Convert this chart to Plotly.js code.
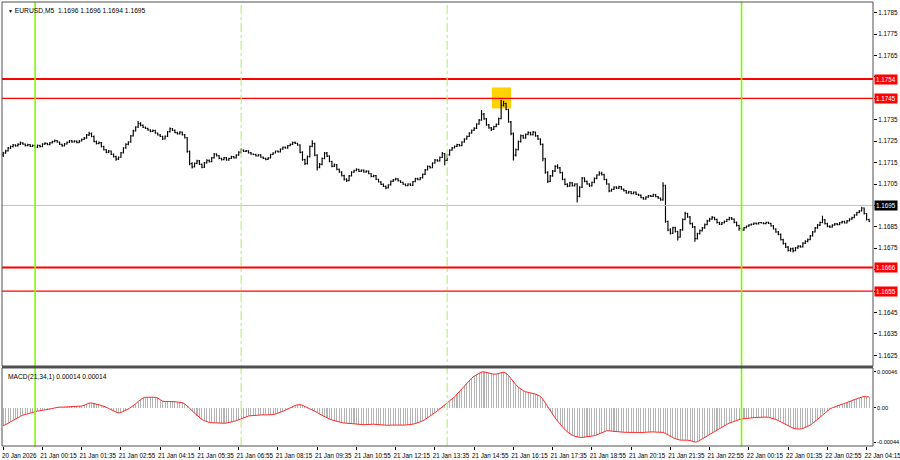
<!DOCTYPE html>
<html><head><meta charset="utf-8">
<script src="https://cdn.plot.ly/plotly-3.0.1.min.js"></script>
<style>html,body{margin:0;padding:0;background:#fff}#chart{width:900px;height:460px}</style>
</head><body><div id="chart"></div>
<script>
// ---- DATA (prices in pips above 1.1600; MACD in units of 0.00001) ----
const symbolTitle = 'EURUSD,M5  1.1696 1.1696 1.1694 1.1695';
const macdTitle = 'MACD(21,34,1) 0.00014 0.00014';
const firstBar = '2026-01-20T22:55:00Z';
const barMinutes = 5;
const priceBase = 1.16;

const openPips = [
118.6,119.5,120.5,121.8,122.5,123.2,122.8,123.5,124.2,123.6,122.9,123.4,122.6,123.0,
122.2,123.0,122.5,123.6,124.0,123.4,124.2,124.8,125.3,124.6,123.5,122.8,123.7,124.5,125.2,124.6,125.0,124.3,125.1,125.8,126.4,127.8,
128.5,127.2,124.8,123.9,124.3,122.5,121.0,119.8,120.4,118.9,117.8,116.6,117.5,119.6,121.8,
123.5,124.6,127.5,129.8,131.6,133.2,
132.4,131.5,131.0,130.2,129.6,130.0,128.8,127.9,127.2,126.0,127.3,129.4,130.8,130.1,129.0,128.4,129.2,128.0,
126.6,120.2,114.5,113.0,114.6,115.8,114.2,112.8,114.9,116.0,115.4,117.2,119.0,118.2,
117.0,116.4,117.3,116.2,116.9,117.8,117.2,118.5,119.9,120.8,
120.2,120.5,119.6,119.0,118.8,118.1,118.6,117.5,117.0,116.5,117.2,118.8,119.5,120.4,120.0,121.3,122.2,121.8,122.9,123.5,124.4,124.0,
123.2,119.8,116.4,114.5,117.8,122.6,124.0,118.5,112.8,114.2,116.9,
119.4,118.0,115.5,113.2,114.0,111.8,110.6,108.9,107.2,106.6,108.8,
110.5,111.2,111.8,110.9,111.5,110.6,111.0,109.8,108.5,108.9,107.2,106.0,104.8,103.9,
103.2,104.6,106.2,106.9,107.4,106.5,105.8,104.9,104.2,105.0,104.4,106.1,107.5,107.0,
107.9,109.5,111.6,113.2,112.6,114.8,116.2,115.8,117.4,119.2,116.0,
118.6,120.8,121.9,122.6,123.4,122.9,124.6,126.0,127.2,128.8,130.1,131.0,133.0,134.8,
137.6,135.4,132.6,131.2,130.5,131.8,132.9,135.5,
141.8,142.6,139.8,134.0,128.5,118.5,121.0,124.8,127.6,126.5,128.2,129.0,128.0,129.2,127.5,126.0,123.5,
116.8,110.5,106.2,108.8,111.0,113.2,112.5,110.3,107.2,104.8,104.0,105.5,104.2,105.0,
99.2,103.5,107.8,106.2,105.0,104.1,105.8,107.6,109.2,110.0,109.4,107.1,105.0,
101.8,102.5,103.6,103.0,103.8,102.6,101.9,100.8,101.4,100.5,101.2,100.2,99.8,98.6,98.0,98.9,99.6,99.2,100.0,99.1,98.4,
97.6,104.2,87.5,83.5,82.0,84.6,82.8,80.2,83.6,88.5,91.2,89.6,86.5,85.0,
79.5,81.8,83.2,84.5,86.0,87.8,88.6,89.4,88.5,87.0,86.2,86.9,87.5,88.4,89.2,88.6,87.1,85.6,
84.2,83.5,84.6,85.3,85.9,86.2,86.7,86.4,87.0,86.8,86.5,87.1,86.6,85.4,84.0,82.6,
81.5,79.0,77.2,75.5,74.0,74.8,73.9,75.2,76.0,75.6,77.4,78.2,79.0,80.8,82.6,84.5,85.8,87.0,
88.3,86.5,85.2,84.9,85.8,86.4,86.0,86.9,87.4,86.8,87.8,88.6,89.3,90.5,91.6,92.4,93.8,91.2,88.4
];
const highPips = [
120.0,121.0,122.3,123.0,123.7,123.6,124.0,124.8,124.5,123.9,123.8,123.7,123.5,123.4,
123.5,123.3,124.0,124.5,124.3,124.6,125.2,125.8,125.6,124.9,123.8,124.1,124.9,125.6,125.5,125.4,125.3,125.5,126.2,126.9,128.3,129.4,
129.0,127.6,125.3,124.8,124.6,122.9,121.4,120.9,120.7,119.2,118.2,117.9,119.9,122.2,124.0,
125.0,127.9,130.3,132.0,134.4,133.8,
132.8,131.9,131.3,130.6,130.4,130.3,129.1,128.3,127.5,127.7,129.8,131.4,131.2,130.4,129.4,129.6,129.5,128.3,
127.0,120.6,115.2,115.0,116.3,116.2,114.6,115.3,116.5,116.4,117.6,119.5,119.4,118.5,
117.3,117.6,117.6,117.2,118.2,118.1,118.9,120.3,121.6,121.1,
120.9,120.8,119.9,119.3,119.1,118.9,118.9,117.8,117.3,117.5,119.1,119.8,120.7,120.7,121.6,122.5,122.5,123.2,123.9,124.8,124.9,124.3,
123.6,120.3,116.8,118.3,123.0,125.4,124.3,118.9,114.8,117.4,119.9,
120.0,118.4,115.9,114.6,114.3,112.2,111.0,109.3,107.7,109.2,111.0,
111.6,112.3,112.1,111.8,111.8,111.4,111.3,110.1,109.3,109.2,107.5,106.3,105.2,104.3,
104.9,106.6,107.3,107.9,107.7,106.8,106.1,105.2,105.4,105.3,106.4,107.9,107.9,108.3,
109.9,112.0,113.6,113.5,115.2,116.7,116.5,117.8,119.9,119.5,119.0,
121.2,122.3,123.0,123.8,123.7,125.0,126.4,127.6,129.2,130.5,131.5,133.4,135.3,139.6,
138.2,135.8,133.0,131.6,132.2,133.3,136.0,144.3,
143.9,143.0,140.2,134.4,129.0,121.6,125.3,128.1,128.0,128.6,129.6,129.4,129.7,129.5,127.9,126.4,123.9,
117.2,111.0,109.2,111.5,113.8,114.2,112.9,110.7,107.6,105.3,106.0,105.9,105.4,105.4,
104.0,108.3,108.2,106.6,105.4,106.2,108.0,109.6,110.9,110.7,109.8,107.5,105.4,
102.9,104.0,104.0,104.2,104.1,102.9,102.2,101.8,101.7,101.5,101.5,100.5,100.1,98.9,99.3,99.9,99.9,100.4,100.3,99.4,98.7,
105.8,104.6,88.0,84.3,85.0,85.0,83.2,84.0,88.9,92.0,91.6,90.0,87.0,85.4,
82.2,83.7,84.9,86.5,88.3,89.2,90.1,89.7,88.8,87.4,87.3,87.9,88.8,89.7,89.6,88.9,87.5,86.0,
84.6,84.9,85.6,86.2,86.5,87.0,87.0,87.3,87.3,87.1,87.4,87.4,86.9,85.8,84.3,83.0,
81.9,79.4,77.6,76.0,75.2,75.3,75.6,76.4,76.4,77.8,78.7,79.5,81.2,83.0,84.9,86.3,87.5,90.2,
88.7,86.9,85.7,86.2,86.8,86.8,87.3,87.8,87.8,88.2,89.0,89.7,90.9,92.0,92.8,94.4,94.0,91.5,88.8
];
const lowPips = [
117.6,119.1,120.2,121.4,122.1,122.4,122.5,123.2,123.3,122.5,122.6,122.3,122.4,121.8,
121.8,122.1,122.2,123.3,123.1,123.1,123.9,124.5,124.3,123.2,122.4,122.5,123.4,124.2,124.3,124.4,124.0,124.1,124.9,125.5,126.1,127.4,
126.8,124.5,123.5,123.6,122.1,120.6,119.4,119.5,118.6,117.4,115.8,116.2,117.2,119.3,121.5,
123.1,124.3,127.2,129.5,131.2,132.0,
131.1,130.7,129.9,129.2,129.3,128.5,127.6,126.9,125.6,125.8,127.0,129.1,129.8,128.7,128.1,128.1,127.7,126.2,
119.6,113.8,112.2,112.7,114.2,113.9,112.3,112.5,114.6,115.0,115.1,116.9,117.8,116.6,
116.0,116.1,115.8,115.9,116.7,116.9,116.9,118.2,119.2,119.9,
119.9,119.3,118.7,118.5,117.8,117.8,117.2,116.7,116.1,116.2,116.9,118.5,119.2,119.7,119.7,121.0,121.5,121.5,122.6,123.2,123.7,122.9,
119.4,115.9,113.9,114.1,117.4,122.2,118.0,111.3,112.3,113.8,116.5,
117.6,115.1,112.8,112.9,111.4,110.2,108.5,106.6,105.9,106.3,108.5,
110.2,110.9,110.6,110.6,110.3,110.3,109.5,108.2,108.2,106.9,105.7,104.5,103.6,102.6,
102.9,104.3,105.9,106.6,106.2,105.5,104.6,103.9,103.9,104.1,104.1,105.8,106.7,106.7,
107.6,109.2,111.3,112.2,112.3,114.5,115.4,115.5,117.1,113.7,115.7,
118.2,120.5,121.6,122.3,122.5,122.6,124.3,125.7,126.9,128.5,129.8,130.7,132.7,134.5,
135.0,132.2,130.8,129.7,130.2,131.5,132.6,135.2,
141.2,139.4,133.6,127.8,116.0,117.8,120.6,124.4,126.1,126.1,127.8,127.6,127.7,127.1,125.6,123.1,115.6,
109.8,105.5,105.8,108.4,110.6,112.1,109.9,106.8,104.4,103.5,103.7,103.8,103.8,96.4,
98.8,103.1,105.8,104.6,103.6,103.8,105.4,107.2,108.8,109.0,106.7,104.6,101.2,
101.4,102.2,102.7,102.7,102.3,101.5,100.4,100.5,100.2,100.2,99.9,99.4,98.3,97.6,97.7,98.6,98.9,98.9,98.8,98.1,97.2,
97.2,86.9,82.9,81.4,81.7,82.3,78.6,79.9,83.2,88.1,89.2,86.1,84.5,78.0,
79.1,81.4,82.8,84.1,85.7,87.4,88.3,88.1,86.6,85.8,85.9,86.5,87.2,88.0,88.2,86.7,85.2,83.2,
82.9,83.2,84.3,85.0,85.6,85.9,86.1,86.1,86.5,86.2,86.2,86.3,85.1,83.7,82.2,81.1,
78.6,76.8,75.1,73.5,73.3,73.0,73.6,74.8,75.2,75.3,77.0,77.8,78.7,80.5,82.3,84.1,85.4,86.7,
86.1,84.8,84.5,84.6,85.5,85.7,85.7,86.6,86.5,86.5,87.5,88.3,89.0,90.2,91.3,92.1,90.8,88.0,87.2
];
const closePips = [
119.5,120.5,121.8,122.5,123.2,122.8,123.5,124.2,123.6,122.9,123.4,122.6,123.0,122.2,
123.0,122.5,123.6,124.0,123.4,124.2,124.8,125.3,124.6,123.5,122.8,123.7,124.5,125.2,124.6,125.0,124.3,125.1,125.8,126.4,127.8,128.5,
127.2,124.8,123.9,124.3,122.5,121.0,119.8,120.4,118.9,117.8,116.6,117.5,119.6,121.8,123.5,
124.6,127.5,129.8,131.6,133.2,132.4,
131.5,131.0,130.2,129.6,130.0,128.8,127.9,127.2,126.0,127.3,129.4,130.8,130.1,129.0,128.4,129.2,128.0,126.6,
120.2,114.5,113.0,114.6,115.8,114.2,112.8,114.9,116.0,115.4,117.2,119.0,118.2,117.0,
116.4,117.3,116.2,116.9,117.8,117.2,118.5,119.9,120.8,120.2,
120.5,119.6,119.0,118.8,118.1,118.6,117.5,117.0,116.5,117.2,118.8,119.5,120.4,120.0,121.3,122.2,121.8,122.9,123.5,124.4,124.0,123.2,
119.8,116.4,114.5,117.8,122.6,124.0,118.5,112.8,114.2,116.9,119.4,
118.0,115.5,113.2,114.0,111.8,110.6,108.9,107.2,106.6,108.8,110.5,
111.2,111.8,110.9,111.5,110.6,111.0,109.8,108.5,108.9,107.2,106.0,104.8,103.9,103.2,
104.6,106.2,106.9,107.4,106.5,105.8,104.9,104.2,105.0,104.4,106.1,107.5,107.0,107.9,
109.5,111.6,113.2,112.6,114.8,116.2,115.8,117.4,119.2,116.0,118.6,
120.8,121.9,122.6,123.4,122.9,124.6,126.0,127.2,128.8,130.1,131.0,133.0,134.8,137.6,
135.4,132.6,131.2,130.5,131.8,132.9,135.5,141.8,
142.6,139.8,134.0,128.5,118.5,121.0,124.8,127.6,126.5,128.2,129.0,128.0,129.2,127.5,126.0,123.5,116.8,
110.5,106.2,108.8,111.0,113.2,112.5,110.3,107.2,104.8,104.0,105.5,104.2,105.0,99.2,
103.5,107.8,106.2,105.0,104.1,105.8,107.6,109.2,110.0,109.4,107.1,105.0,101.8,
102.5,103.6,103.0,103.8,102.6,101.9,100.8,101.4,100.5,101.2,100.2,99.8,98.6,98.0,98.9,99.6,99.2,100.0,99.1,98.4,97.6,
104.2,87.5,83.5,82.0,84.6,82.8,80.2,83.6,88.5,91.2,89.6,86.5,85.0,79.5,
81.8,83.2,84.5,86.0,87.8,88.6,89.4,88.5,87.0,86.2,86.9,87.5,88.4,89.2,88.6,87.1,85.6,84.2,
83.5,84.6,85.3,85.9,86.2,86.7,86.4,87.0,86.8,86.5,87.1,86.6,85.4,84.0,82.6,81.5,
79.0,77.2,75.5,74.0,74.8,73.9,75.2,76.0,75.6,77.4,78.2,79.0,80.8,82.6,84.5,85.8,87.0,88.3,
86.5,85.2,84.9,85.8,86.4,86.0,86.9,87.4,86.8,87.8,88.6,89.3,90.5,91.6,92.4,93.8,91.2,88.4,87.6
];
const macdE5 = [
-23,-22,-20,-18,-16,-14,-12.5,-11,-9.5,-8.5,-7.5,-6.5,-5.5,-4.8,-4.2,-3.8,-3.4,-3,-2.5,-1.8,
-1,-0.2,0.5,0.9,0.8,1.0,1.3,1.6,1.7,1.8,1.7,1.8,2.2,3.2,4.6,6.0,6.2,5.6,5.0,4.2,
3.0,2.0,1.0,-0.8,-2.5,-4.2,-6,-6.8,-6,-4.8,-3.5,-1.5,0.5,2.5,5,8,10.5,12.5,13.5,13.8,
13.6,13.5,13.3,12.5,10.5,8.5,8.0,8.1,8.3,8.2,7.8,7.3,7.0,6.6,5,2.5,-0.5,-4,-7,-10,
-12.5,-15,-16.5,-17.8,-18.8,-19.2,-19.5,-19.6,-19.7,-19.8,-19.8,-19.6,-19.2,-18.5,-17.5,-16.6,-15.2,-13.8,-12.5,-11.2,
-10.6,-10.2,-9.8,-9.5,-9.3,-9.1,-9,-9.2,-9.3,-9.2,-8.8,-8,-7,-6,-4.8,-3.3,-1.6,0.2,1.8,3,
3.8,4.0,3.2,1.8,0.5,-0.8,-2.3,-4,-6,-8,-9.8,-11.5,-13,-14.4,-15.6,-16.6,-17.5,-18.3,-19,-19.5,
-19.8,-20.1,-20.4,-20.8,-21.2,-21.6,-21.8,-21.7,-21.5,-21.2,-21,-21.1,-21.4,-21.8,-22.2,-22.5,-22.6,-22.5,-22.2,-22,
-21.9,-22,-22.1,-22.2,-22.2,-22,-21.5,-21,-20.3,-19.4,-18.3,-16.8,-15,-13,-10.8,-8.5,-6.2,-4,-1.5,1,
3.5,5.5,8,11,14,17.5,21,24.5,28,31.5,35,38,40.5,42.5,44.5,45.8,46,45.2,44,43.2,
43,43.3,44.2,45.6,45.6,44.2,41.5,37.5,33,29.5,26.5,24,22,20.5,19.5,18.8,18.3,17.6,16.5,14.5,
11,6,0.5,-4.5,-9,-13,-17,-21,-24.8,-28,-31,-33.5,-35.3,-36.5,-37.5,-38,-38,-37.6,-37.2,-37,
-36.6,-35.8,-34.6,-33.2,-31.8,-30.4,-29.5,-29.6,-30,-30.5,-30.8,-31,-31.2,-31.4,-31.5,-31.3,-31.2,-31.3,-31.6,-31.8,
-32,-31.8,-31.3,-30.9,-30.8,-30.9,-31.2,-31.5,-31.8,-31.5,-33,-35,-36.8,-38.2,-39.5,-40.8,-41.5,-41.5,-41.3,-41.6,
-42,-43,-44,-43.5,-41.6,-40.2,-38.4,-36.4,-34.2,-32,-30,-28.2,-26.5,-24.8,-23,-21.3,-19.8,-18.5,-17.3,-16.2,
-15.2,-14.4,-13.9,-13.5,-13.2,-13,-12.7,-12.4,-12.1,-11.9,-11.8,-11.9,-12.3,-12.9,-13.8,-15,-16.4,-18,-19.8,-21.6,
-23.4,-25,-26.2,-27,-27.4,-27.3,-26.6,-25.4,-24,-22.2,-20,-17.4,-14.6,-11.6,-8.6,-6,-3.6,-1.6,0,1.4,
2.6,3.6,4.6,5.6,6.6,7.8,9,10.3,11.6,12.8,14,14.4,14.2,14
];
const redLevels = [1.1754, 1.1745, 1.1666, 1.1655];
const bidPrice = 1.1695;
const priceTicks = [1.1625,1.1635,1.1645,1.1655,1.1665,1.1675,1.1685,1.1695,1.1705,1.1715,1.1725,1.1735,1.1745,1.1755,1.1765,1.1775,1.1785];
const priceTickText = ['1.1625','1.1635','1.1645','','','1.1675','1.1685','','1.1705','1.1715','1.1725','1.1735','','','1.1765','1.1775','1.1785'];
const macdTicks = [0.00046, 0, -0.00044];
const macdTickText = ['0.00046', '0.00', '-0.00044'];
const dayLines = ['2026-01-21 00:00', '2026-01-22 00:00'];
const sessionLines = ['2026-01-21 07:00', '2026-01-21 14:00'];
const timeTicks = ['2026-01-20 22:55','2026-01-21 00:15','2026-01-21 01:35','2026-01-21 02:55','2026-01-21 04:15','2026-01-21 05:35','2026-01-21 06:55','2026-01-21 08:15','2026-01-21 09:35','2026-01-21 10:55','2026-01-21 12:15','2026-01-21 13:35','2026-01-21 14:55','2026-01-21 16:15','2026-01-21 17:35','2026-01-21 18:55','2026-01-21 20:15','2026-01-21 21:35','2026-01-21 22:55','2026-01-22 00:15','2026-01-22 01:35','2026-01-22 02:55','2026-01-22 04:15'];
const timeTickText = ['20 Jan 2026','21 Jan 00:15','21 Jan 01:35','21 Jan 02:55','21 Jan 04:15','21 Jan 05:35','21 Jan 06:55','21 Jan 08:15','21 Jan 09:35','21 Jan 10:55','21 Jan 12:15','21 Jan 13:35','21 Jan 14:55','21 Jan 16:15','21 Jan 17:35','21 Jan 18:55','21 Jan 20:15','21 Jan 21:35','21 Jan 22:55','22 Jan 00:15','22 Jan 01:35','22 Jan 02:55','22 Jan 04:15'];

// ---- BUILD ----
const n = Math.min(openPips.length, highPips.length, lowPips.length, closePips.length, macdE5.length);
function fmt(ms){const d=new Date(ms);const p=v=>String(v).padStart(2,'0');
  return d.getUTCFullYear()+'-'+p(d.getUTCMonth()+1)+'-'+p(d.getUTCDate())+' '+p(d.getUTCHours())+':'+p(d.getUTCMinutes());}
const t0 = Date.parse(firstBar);
const times = [], O=[], H=[], L=[], C=[], M=[];
for (let i=0;i<n;i++){
  times.push(fmt(t0 + i*barMinutes*60000));
  O.push(priceBase+openPips[i]/10000); H.push(priceBase+highPips[i]/10000);
  L.push(priceBase+lowPips[i]/10000); C.push(priceBase+closePips[i]/10000);
  M.push(macdE5[i]/100000);
}
let hi = 0; for (let i=1;i<n;i++) if (H[i]>H[hi]) hi=i;
const hiT = t0 + hi*barMinutes*60000;

const FONT = 'Liberation Sans, Arial, sans-serif';
const FS = 6.3;
const mainDom = [0.1802, 1], macdDom = [0, 0.1757];

const traces = [
  {type:'bar', x:times, y:M, xaxis:'x', yaxis:'y2', marker:{color:'#b4b4b4', line:{width:0}},
   width: barMinutes*60000*0.42, hoverinfo:'skip', showlegend:false},
  {type:'scatter', mode:'lines', x:times, y:M, xaxis:'x', yaxis:'y2',
   line:{color:'#ff2a2a', width:1}, hoverinfo:'skip', showlegend:false},
  {type:'ohlc', x:times, open:O, high:H, low:L, close:C, xaxis:'x', yaxis:'y',
   increasing:{line:{color:'#000', width:1.15}}, decreasing:{line:{color:'#000', width:1.15}},
   tickwidth:0.4, hoverinfo:'skip', showlegend:false}
];

const shapes = [];
shapes.push({type:'rect', xref:'x', yref:'y', layer:'below',
  x0:fmt(hiT-19*60000), x1:fmt(hiT+20*60000), y0:H[hi]-0.00040, y1:H[hi]+0.00058,
  fillcolor:'#ffd200', line:{width:0}});
shapes.push({type:'line', xref:'paper', yref:'y', x0:0, x1:1, y0:bidPrice, y1:bidPrice, line:{color:'#c0c0c0', width:1}});
const lvlW = [2, 1.3, 2, 1.3];
redLevels.forEach((v,k)=>shapes.push({type:'line', xref:'paper', yref:'y', x0:0, x1:1, y0:v, y1:v, line:{color:'#ff0000', width:lvlW[k]}}));
dayLines.forEach(t=>shapes.push({type:'line', xref:'x', yref:'paper', x0:t, x1:t, y0:0, y1:1, line:{color:'#7cfc00', width:1.6}}));
sessionLines.forEach(t=>shapes.push({type:'line', xref:'x', yref:'paper', x0:t, x1:t, y0:0, y1:1, line:{color:'#b6f57a', width:1.2, dash:'dashdot'}}));
shapes.push({type:'rect', xref:'paper', yref:'paper', x0:0, x1:1, y0:mainDom[0], y1:1, line:{color:'#505050', width:1}});
shapes.push({type:'rect', xref:'paper', yref:'paper', x0:0, x1:1, y0:macdDom[0], y1:macdDom[1], line:{color:'#505050', width:1}});
shapes.push({type:'rect', xref:'paper', yref:'paper', x0:0, x1:1, y0:macdDom[1], y1:mainDom[0], fillcolor:'#505050', line:{width:0}});

const annotations = [];
annotations.push({xref:'paper', yref:'paper', x:0, y:1, xanchor:'left', yanchor:'top', xshift:4, yshift:-3,
  text:'<span style="font-size:5px">▼</span> '+symbolTitle, showarrow:false, font:{family:FONT, size:FS+0.4, color:'#000'}});
annotations.push({xref:'paper', yref:'paper', x:0, y:macdDom[1], xanchor:'left', yanchor:'top', xshift:4, yshift:-3,
  text:macdTitle, showarrow:false, font:{family:FONT, size:FS+0.4, color:'#000'}});
redLevels.forEach(v=>annotations.push({xref:'paper', yref:'y', x:1, y:v, xanchor:'left', yanchor:'middle', xshift:1,
  text:v.toFixed(4), showarrow:false, bgcolor:'#ff0000', borderpad:1, font:{family:FONT, size:FS, color:'#fff'}}));
annotations.push({xref:'paper', yref:'y', x:1, y:bidPrice, xanchor:'left', yanchor:'middle', xshift:1,
  text:bidPrice.toFixed(4), showarrow:false, bgcolor:'#000', borderpad:1, font:{family:FONT, size:FS, color:'#fff'}});

const layout = {
  width:900, height:460, margin:{l:2, r:27, t:2, b:14},
  paper_bgcolor:'#fff', plot_bgcolor:'#fff', showlegend:false, dragmode:false,
  bargap:0,
  xaxis:{type:'date', anchor:'y2', range:['2026-01-20 22:52:30','2026-01-22 04:28'],
    tickvals:timeTicks, ticktext:timeTickText, ticks:'outside', ticklen:3, tickcolor:'#000',
    tickangle:0, ticklabelshift:16, ticklabeloverflow:'allow',
    tickfont:{family:FONT, size:FS, color:'#000'}, showgrid:false, zeroline:false, showline:false,
    rangeslider:{visible:false}, fixedrange:true},
  yaxis:{domain:mainDom, anchor:'x', side:'right', range:[1.1620, 1.1790], tickvals:priceTicks, ticktext:priceTickText,
    ticks:'outside', ticklen:3, tickcolor:'#000',
    tickfont:{family:FONT, size:FS, color:'#000'}, showgrid:false, zeroline:false, showline:false, fixedrange:true},
  yaxis2:{domain:macdDom, anchor:'x', side:'right', range:[-0.00049, 0.00051], tickvals:macdTicks, ticktext:macdTickText,
    ticks:'outside', ticklen:2, tickcolor:'#000', ticklabelstandoff:0,
    tickfont:{family:FONT, size:5.6, color:'#000'}, showgrid:false, zeroline:false, showline:false, fixedrange:true},
  shapes:shapes, annotations:annotations
};
Plotly.newPlot('chart', traces, layout, {staticPlot:true, displayModeBar:false});
</script></body></html>
